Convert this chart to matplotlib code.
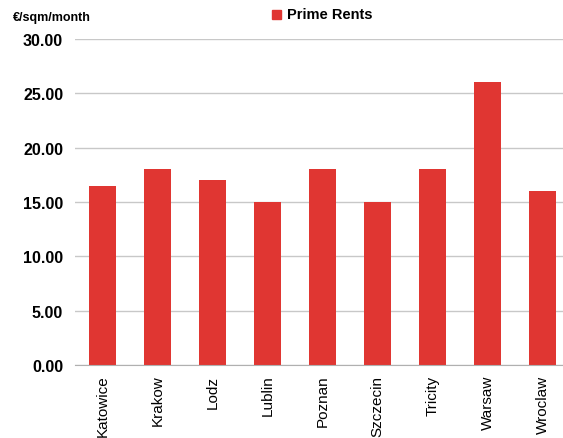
import matplotlib
matplotlib.use("Agg")
import matplotlib.pyplot as plt
from matplotlib.patches import Rectangle

cities = ["Katowice", "Krakow", "Lodz", "Lublin", "Poznan", "Szczecin", "Tricity", "Warsaw", "Wroclaw"]
rents = [16.5, 18.0, 17.0, 15.0, 18.0, 15.0, 18.0, 26.0, 16.0]
yticks = [0, 5, 10, 15, 20, 25, 30]
bar_color = "#E03632"

plt.rcParams["font.family"] = ["Liberation Sans", "DejaVu Sans"]

W, H = 563, 439
fig = plt.figure(figsize=(W / 100, H / 100), dpi=100)
left, right, top, bottom = 75, 570, 40, 366
ax = fig.add_axes([left / W, 1 - bottom / H, (right - left) / W, (bottom - top) / H])

x = list(range(len(cities)))
ax.bar(x, rents, width=0.49, color=bar_color, zorder=3, label="Prime Rents")
ax.set_xlim(-0.5, len(cities) - 0.5)
ax.set_ylim(0, 30)
ax.set_yticks(yticks)
ax.set_yticklabels([f"{v:.2f}" for v in yticks], fontsize=11.5, fontweight="bold")
ax.set_xticks(x)
ax.set_xticklabels(cities, rotation=90, fontsize=11)
ax.tick_params(axis="both", length=0)
ax.tick_params(axis="y", pad=8.5)
ax.tick_params(axis="x", pad=7)
ax.grid(axis="y", color="#c8c8c8", linewidth=1, zorder=0)
for s in ["top", "right", "left"]:
    ax.spines[s].set_visible(False)
ax.spines["bottom"].set_color("#b0b0b0")
ax.spines["bottom"].set_zorder(4)

fig.text(13 / W, 1 - 18 / H, "€/sqm/month", fontsize=9, fontweight="bold", va="center", ha="left")
fig.patches.append(Rectangle((272 / W, 1 - 20 / H), 9 / W, 9 / H, transform=fig.transFigure,
                             color=bar_color, figure=fig))
fig.text(287 / W, 1 - 15 / H, "Prime Rents", fontsize=10.5, fontweight="bold", va="center", ha="left")

fig.savefig("out.png", dpi=100)
